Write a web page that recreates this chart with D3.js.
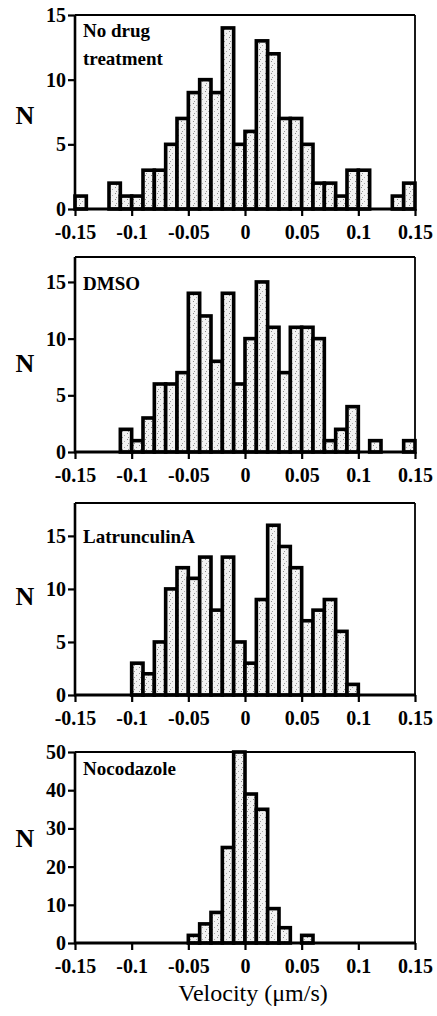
<!DOCTYPE html>
<html>
<head>
<meta charset="utf-8">
<script src="https://cdn.jsdelivr.net/npm/d3@7"></script>
<style>
body { margin: 0; background: #fff; }
svg { display: block; }
</style>
</head>
<body>
<svg></svg>
<script>
// bin starts (velocity, um/s), bin width 0.01
var binStarts = [-0.15, -0.14, -0.13, -0.12, -0.11, -0.10, -0.09, -0.08, -0.07, -0.06,
                 -0.05, -0.04, -0.03, -0.02, -0.01, 0.00, 0.01, 0.02, 0.03, 0.04,
                 0.05, 0.06, 0.07, 0.08, 0.09, 0.10, 0.11, 0.12, 0.13, 0.14];
var binWidth = 0.01;

var noDrug   = [1, 0, 0, 2, 1, 1, 3, 3, 5, 7, 9, 10, 9, 14, 5, 6, 13, 12, 7, 7, 5, 2, 2, 1, 3, 3, 0, 0, 1, 2];
var dmso     = [0, 0, 0, 0, 2, 1, 3, 6, 6, 7, 14, 12, 8, 14, 6, 10, 15, 11, 7, 11, 11, 10, 1, 2, 4, 0, 1, 0, 0, 1];
var latA     = [0, 0, 0, 0, 0, 3, 2, 5, 10, 12, 11, 13, 8, 13, 5, 3, 9, 16, 14, 12, 7, 8, 9, 6, 1, 0, 0, 0, 0, 0];
var nocodaz  = [0, 0, 0, 0, 0, 0, 0, 0, 0, 0, 2, 5, 8, 25, 50, 39, 35, 9, 4, 0, 2, 0, 0, 0, 0, 0, 0, 0, 0, 0];

var titles = [["No drug", "treatment"], ["DMSO"], ["LatrunculinA"], ["Nocodazole"]];
var xTicks = [-0.15, -0.1, -0.05, 0, 0.05, 0.1, 0.15];
var xTickLabels = ["-0.15", "-0.1", "-0.05", "0", "0.05", "0.1", "0.15"];
var yTicksSmall = [0, 5, 10, 15];
var yTicksBig = [0, 10, 20, 30, 40, 50];

var svgWidth = 437, svgHeight = 1016;
var serif = "'Liberation Serif', 'Times New Roman', serif";

var svg = d3.select("svg")
    .attr("width", svgWidth)
    .attr("height", svgHeight);

// light stippled fill like the scanned bars
var pat = svg.append("defs").append("pattern")
    .attr("id", "stipple")
    .attr("width", 6).attr("height", 6)
    .attr("patternUnits", "userSpaceOnUse");
pat.append("rect").attr("width", 6).attr("height", 6).attr("fill", "#f2f2f2");
pat.append("rect").attr("x", 1).attr("y", 1).attr("width", 1).attr("height", 1).attr("fill", "#888");
pat.append("rect").attr("x", 4).attr("y", 3).attr("width", 1).attr("height", 1).attr("fill", "#aaa");
pat.append("rect").attr("x", 2).attr("y", 5).attr("width", 1).attr("height", 1).attr("fill", "#999");

var x = d3.scaleLinear()
    .domain([-0.15, 0.15])
    .range([75, 415]);

var panels = [
    {counts: noDrug,  top: 15,  zero: 209, ymax: 15,   ticks: yTicksSmall, title: titles[0], titleY: 37,  nY: 124},
    {counts: dmso,    top: 257, zero: 452, ymax: 17.2, ticks: yTicksSmall, title: titles[1], titleY: 290, nY: 372},
    {counts: latA,    top: 503, zero: 695, ymax: 18.1, ticks: yTicksSmall, title: titles[2], titleY: 543, nY: 605},
    {counts: nocodaz, top: 752, zero: 943, ymax: 50,   ticks: yTicksBig,   title: titles[3], titleY: 775, nY: 847}
];

panels.forEach(function(p) {
    var y = d3.scaleLinear()
        .domain([0, p.ymax])
        .range([p.zero, p.top]);

    var g = svg.append("g");

    // bars
    g.selectAll("rect.bar")
        .data(binStarts.map(function(b, i) { return {x0: b, n: p.counts[i]}; })
            .filter(function(d) { return d.n > 0; }))
        .enter()
        .append("rect")
        .attr("class", "bar")
        .attr("x", function(d) { return x(d.x0); })
        .attr("width", function(d) { return x(d.x0 + binWidth) - x(d.x0); })
        .attr("y", function(d) { return y(d.n); })
        .attr("height", function(d) { return y(0) - y(d.n); })
        .attr("fill", "url(#stipple)")
        .attr("stroke", "#000")
        .attr("stroke-width", 3.6);

    // frame
    g.append("line").attr("x1", 75).attr("x2", 415).attr("y1", p.top).attr("y2", p.top)
        .attr("stroke", "#000").attr("stroke-width", 1.8);
    g.append("line").attr("x1", 415).attr("x2", 415).attr("y1", p.top).attr("y2", p.zero)
        .attr("stroke", "#000").attr("stroke-width", 1.8);
    g.append("line").attr("x1", 75).attr("x2", 75).attr("y1", p.top).attr("y2", p.zero + 1)
        .attr("stroke", "#000").attr("stroke-width", 2.6);
    g.append("line").attr("x1", 74).attr("x2", 416).attr("y1", p.zero).attr("y2", p.zero)
        .attr("stroke", "#000").attr("stroke-width", 2.8);

    // x axis
    var xAxis = g.append("g")
        .attr("transform", "translate(0," + p.zero + ")")
        .call(d3.axisBottom(x)
            .tickValues(xTicks)
            .tickSize(7)
            .tickPadding(9)
            .tickFormat(function(d, i) { return xTickLabels[i]; }));
    xAxis.select(".domain").remove();
    xAxis.selectAll("line").attr("stroke", "#000").attr("stroke-width", 2.2);
    xAxis.selectAll("text")
        .attr("fill", "#000")
        .style("font-family", serif)
        .style("font-weight", "bold")
        .style("font-size", "20px");

    // y axis
    var yAxis = g.append("g")
        .attr("transform", "translate(75,0)")
        .call(d3.axisLeft(y)
            .tickValues(p.ticks)
            .tickSize(7)
            .tickPadding(2));
    yAxis.select(".domain").remove();
    yAxis.selectAll("line").attr("stroke", "#000").attr("stroke-width", 2.2);
    yAxis.selectAll("text")
        .attr("fill", "#000")
        .style("font-family", serif)
        .style("font-weight", "bold")
        .style("font-size", "20px");

    // N label
    g.append("text")
        .attr("x", 25)
        .attr("y", p.nY)
        .attr("text-anchor", "middle")
        .style("font-family", serif)
        .style("font-weight", "bold")
        .style("font-size", "26px")
        .text("N");

    // panel title
    g.selectAll("text.title")
        .data(p.title)
        .enter()
        .append("text")
        .attr("class", "title")
        .attr("x", 83)
        .attr("y", function(d, i) { return p.titleY + i * 28; })
        .style("font-family", serif)
        .style("font-weight", "bold")
        .style("font-size", "19px")
        .text(function(d) { return d; });
});

svg.append("text")
    .attr("x", 253)
    .attr("y", 1001)
    .attr("text-anchor", "middle")
    .style("font-family", serif)
    .style("font-size", "24px")
    .text("Velocity (\u03bcm/s)");
</script>
</body>
</html>
